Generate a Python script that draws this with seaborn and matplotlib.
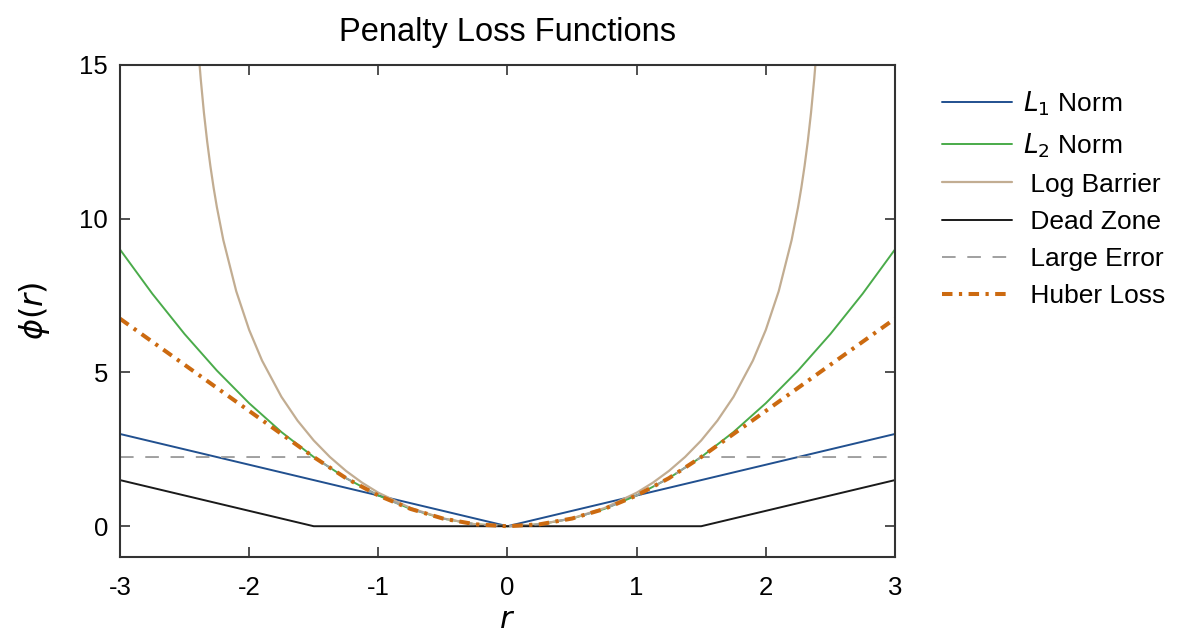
import matplotlib
matplotlib.use("Agg")
import matplotlib.pyplot as plt
import seaborn as sns
import pandas as pd

# ---- data ----
l1_r = [-3.0, 0.0, 3.0]
l1_v = [3.0, 0.0, 3.0]

grid_r = [-3.0, -2.75, -2.5, -2.25, -2.0, -1.75, -1.5, -1.25, -1.0, -0.75, -0.5, -0.25, 0.0,
          0.25, 0.5, 0.75, 1.0, 1.25, 1.5, 1.75, 2.0, 2.25, 2.5, 2.75, 3.0]
l2_v = [9.0, 7.5625, 6.25, 5.0625, 4.0, 3.0625, 2.25, 1.5625, 1.0, 0.5625, 0.25, 0.0625, 0.0,
        0.0625, 0.25, 0.5625, 1.0, 1.5625, 2.25, 3.0625, 4.0, 5.0625, 6.25, 7.5625, 9.0]
large_v = [2.25, 2.25, 2.25, 2.25, 2.25, 2.25, 2.25, 1.5625, 1.0, 0.5625, 0.25, 0.0625, 0.0,
           0.0625, 0.25, 0.5625, 1.0, 1.5625, 2.25, 2.25, 2.25, 2.25, 2.25, 2.25, 2.25]
huber_v = [6.75, 6.0, 5.25, 4.5, 3.75, 3.0, 2.25, 1.5625, 1.0, 0.5625, 0.25, 0.0625, 0.0,
           0.0625, 0.25, 0.5625, 1.0, 1.5625, 2.25, 3.0, 3.75, 4.5, 5.25, 6.0, 6.75]

log_r = [-2.4, -2.39, -2.375, -2.35, -2.325, -2.3, -2.275, -2.25, -2.2, -2.1, -2.0, -1.9,
         -1.75, -1.625, -1.5, -1.375, -1.25, -1.125, -1.0, -0.75, -0.5, -0.25, 0.0,
         0.25, 0.5, 0.75, 1.0, 1.125, 1.25, 1.375, 1.5, 1.625, 1.75,
         1.9, 2.0, 2.1, 2.2, 2.25, 2.275, 2.3, 2.325, 2.35, 2.375, 2.39, 2.4]
log_v = [15.912, 15.329, 14.549, 13.442, 12.511, 11.709, 11.005, 10.380, 9.306, 7.643, 6.385, 5.386,
         4.208, 3.432, 2.789, 2.252, 1.798, 1.414, 1.090, 0.589, 0.255, 0.063, 0.0,
         0.063, 0.255, 0.589, 1.090, 1.414, 1.798, 2.252, 2.789, 3.432, 4.208,
         5.386, 6.385, 7.643, 9.306, 10.380, 11.005, 11.709, 12.511, 13.442, 14.549, 15.329, 15.912]

dz_r = [-3.0, -1.5, 1.5, 3.0]
dz_v = [1.5, 0.0, 0.0, 1.5]

x_ticks = [-3, -2, -1, 0, 1, 2, 3]
x_tick_labels = ["-3", "-2", "-1", "0", "1", "2", "3"]
y_ticks = [0, 5, 10, 15]
y_tick_labels = ["0", "5", "10", "15"]

# ---- style ----
sns.set_theme(style="white")
plt.rcParams["font.family"] = ["Liberation Sans", "DejaVu Sans"]
plt.rcParams["mathtext.fontset"] = "dejavusans"
plt.rcParams["text.color"] = "black"
plt.rcParams["axes.labelcolor"] = "black"
plt.rcParams["axes.titlecolor"] = "black"

fig = plt.figure(figsize=(11.81, 6.34), dpi=100)
ax = fig.add_axes([0.1016, 0.1215, 0.6562, 0.776])

c_l1 = "#21508f"
c_l2 = "#4aab4a"
c_log = "#c2ad92"
c_dz = "#1a1a1a"
c_le = "#a0a0a0"
c_hub = "#cc6a10"

sns.lineplot(x=l1_r, y=l1_v, ax=ax, color=c_l1, lw=1.4, label=r"$L_1$ Norm")
sns.lineplot(x=grid_r, y=l2_v, ax=ax, color=c_l2, lw=1.4, label=r"$L_2$ Norm")
sns.lineplot(x=log_r, y=log_v, ax=ax, color=c_log, lw=1.6, label=" Log Barrier")
sns.lineplot(x=dz_r, y=dz_v, ax=ax, color=c_dz, lw=1.4, label=" Dead Zone")
sns.lineplot(x=grid_r, y=large_v, ax=ax, color=c_le, lw=1.4, label=" Large Error",
             linestyle=(0, (7, 6)))
sns.lineplot(x=grid_r, y=huber_v, ax=ax, color=c_hub, lw=2.9, label=" Huber Loss",
             linestyle=(0, (2.6, 1.6, 0.8, 1.6)))

ax.set_xlim(-3, 3)
ax.set_ylim(-1, 15)
ax.set_xticks(x_ticks)
ax.set_xticklabels(x_tick_labels)
ax.set_yticks(y_ticks)
ax.set_yticklabels(y_tick_labels)
ax.tick_params(direction="in", length=7, width=1.2, color="#333333",
               labelsize=18.5, labelcolor="black", top=True, right=True,
               bottom=True, left=True)
ax.tick_params(axis="x", pad=13.5)
ax.tick_params(axis="y", pad=8.5)
for s in ax.spines.values():
    s.set_color("#333333")
    s.set_linewidth(1.5)

ax.set_title("Penalty Loss Functions", fontsize=23.5, pad=17, color="black")
ax.set_xlabel(r"$r$", fontsize=22, labelpad=3.5, color="black")
ax.set_ylabel(r"$\phi(r)$", fontsize=23, labelpad=20, color="black")

leg = ax.legend(loc="upper left", bbox_to_anchor=(1.047, 0.972), frameon=False,
                fontsize=19, handlelength=2.65, handletextpad=0.42, labelspacing=0.5,
                borderaxespad=0, labelcolor="black")

fig.savefig("out.png", dpi=100)
